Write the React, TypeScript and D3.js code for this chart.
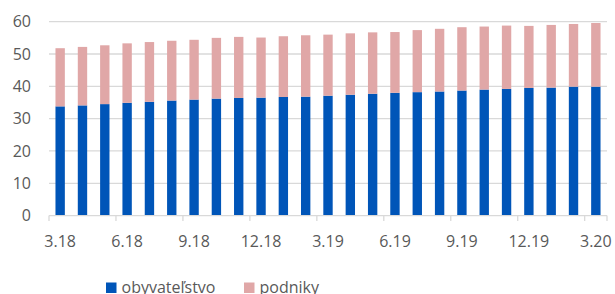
import React from 'react';
import * as d3 from 'd3';

// mesiace (m.rr)
const months = [
  '3.18', '4.18', '5.18', '6.18', '7.18', '8.18', '9.18', '10.18', '11.18',
  '12.18', '1.19', '2.19', '3.19', '4.19', '5.19', '6.19', '7.19', '8.19',
  '9.19', '10.19', '11.19', '12.19', '1.20', '2.20', '3.20',
];
const obyvatelstvo = [
  33.8, 34.1, 34.5, 34.9, 35.2, 35.6, 35.9, 36.2, 36.4, 36.5, 36.7, 36.8,
  37.1, 37.4, 37.7, 38.0, 38.2, 38.4, 38.7, 39.0, 39.2, 39.5, 39.6, 39.9, 39.9,
];
const spolu = [
  51.8, 52.2, 52.7, 53.3, 53.7, 54.1, 54.4, 55.0, 55.3, 55.1, 55.5, 55.8,
  56.0, 56.4, 56.7, 56.8, 57.4, 57.8, 58.3, 58.5, 58.8, 58.7, 59.0, 59.3, 59.6,
];
const podniky = spolu.map((s, i) => +(s - obyvatelstvo[i]).toFixed(1));
const yTicks = [0, 10, 20, 30, 40, 50, 60];
const xLabels = ['3.18', '6.18', '9.18', '12.18', '3.19', '6.19', '9.19', '12.19', '3.20'];
const seriesNames = ['obyvateľstvo', 'podniky'];

const W = 615;
const H = 294;
const left = 49;
const right = 607;
const top = 21.7;
const bottom = 215.6;
const blue = '#0055b8';
const pink = '#e0a7a7';
const textCol = '#595959';
const font = '"Open Sans", sans-serif';

const App = () => {
  const x = d3.scaleBand<string>().domain(months).range([left, right]).paddingInner(0.58).paddingOuter(0.29);
  const band = d3.scaleBand<string>().domain(months).range([left, right]);
  const y = d3.scaleLinear().domain([0, 60]).range([bottom, top]);

  const rows = months.map((m, i) => ({ m, obyvatelstvo: obyvatelstvo[i], podniky: podniky[i] }));
  const stack = d3.stack<any>().keys(['obyvatelstvo', 'podniky'])(rows);
  const colors = [blue, pink];

  // ticks every 3 months at band edges
  const tickPos = months
    .map((m, i) => (i % 3 === 0 ? band(m)! : null))
    .filter((v) => v !== null) as number[];
  tickPos.push(right);

  return (
    <svg width={W} height={H} style={{ position: 'absolute', left: 0, top: 0 }} fontFamily={font}>
      <rect width={W} height={H} fill="#fff" />
      {yTicks.filter((t) => t > 0).map((t) => (
        <line key={t} x1={left} x2={right} y1={y(t)} y2={y(t)} stroke="#d9d9d9" strokeWidth={1.3} />
      ))}
      {yTicks.map((t) => (
        <text key={t} x={31} y={y(t)} dy="0.36em" textAnchor="end" fontSize={16} fill={textCol}>
          {t}
        </text>
      ))}
      {stack.map((s, k) => (
        <g key={k} fill={colors[k]}>
          {s.map((d: any, i) => (
            <rect
              key={i}
              x={x(months[i])}
              width={x.bandwidth()}
              y={y(d[1])}
              height={y(d[0]) - y(d[1])}
            />
          ))}
        </g>
      ))}
      <line x1={left} x2={right} y1={bottom} y2={bottom} stroke="#d9d9d9" strokeWidth={1.3} />
      {tickPos.map((p, i) => (
        <line key={i} x1={p} x2={p} y1={bottom} y2={bottom + 5.5} stroke="#d9d9d9" strokeWidth={1.3} />
      ))}
      {xLabels.map((l) => (
        <text key={l} x={band(l)! + band.bandwidth() / 2} y={246.5} textAnchor="middle" fontSize={16} fill={textCol}>
          {l}
        </text>
      ))}
      <g>
        <rect x={106} y={282.5} width={10.5} height={10.5} fill={blue} />
        <text x={121.5} y={293} fontSize={16} fill={textCol}>{seriesNames[0]}</text>
        <rect x={244} y={282.5} width={10.5} height={10.5} fill={pink} />
        <text x={259.5} y={293} fontSize={16} fill={textCol}>{seriesNames[1]}</text>
      </g>
    </svg>
  );
};

export default App;
